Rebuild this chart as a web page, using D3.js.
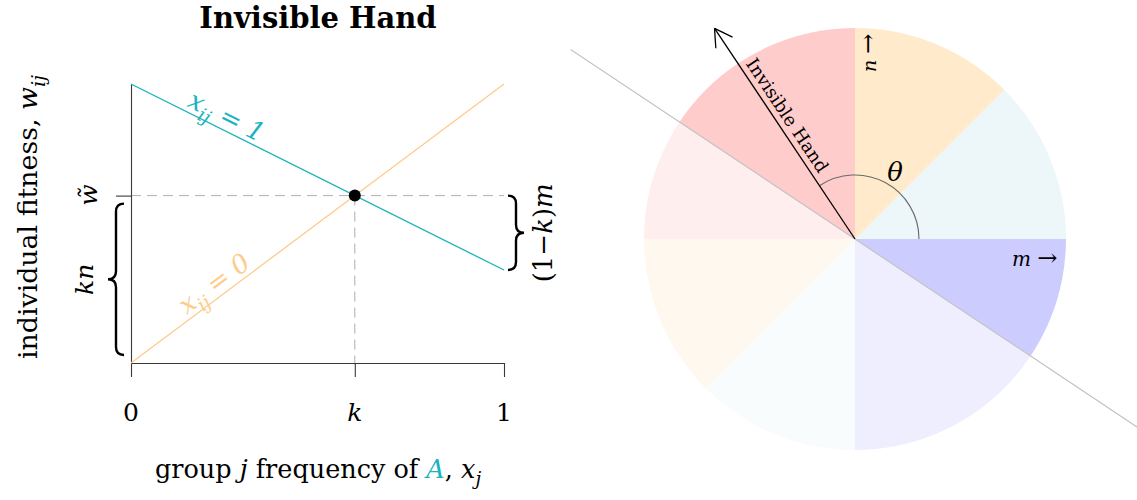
<!DOCTYPE html>
<html>
<head>
<meta charset="utf-8">
<script src="https://cdn.jsdelivr.net/npm/d3@7"></script>
<style>
  html, body { margin: 0; padding: 0; background: #fff; }
  svg { display: block; }
</style>
</head>
<body>
<script>
// ---- model values ----
const kValue = 0.6;                 // critical frequency k
const nValue = 1;                   // benefit slope n
const mValue = 2 / 3;               // cost slope m
const wTilde = kValue * nValue;     // fitness at the crossing point
const xDomain = [0, 1];
const yDomain = [0, 1];
const lineXij1 = [[0, 1], [1, 1 - mValue]];   // fitness when x_ij = 1
const lineXij0 = [[0, 0], [1, nValue]];       // fitness when x_ij = 0
const xTickValues = [0, kValue, 1];
const xTickLabels = ["0", "k", "1"];
const xTickItalic = [false, true, false];

// circle sectors: [start, end] in degrees, counter-clockwise from east
const sectorAngles = [[0, 45], [45, 90], [90, 180], [180, 225], [225, 270], [270, 360]];
const sectorColors = ["#a5d2e1", "#ff9900", "#ff0000", "#ff9900", "#a5d2e1", "#0000ff"];
const handDirection = [-mValue, nValue];     // invisible hand vector
const dividerNormal = [mValue, nValue];      // normal of the dividing line
const handLength = 1.2;                      // in circle radii
const dividerExtent = [-1.7, 1.62];          // along the dividing line, in radii

// ---- styling ----
const W = 1137, H = 500;
const serif = "'DejaVu Serif', 'Liberation Serif', serif";
const teal = "#1ab3bf";
const orange = "#fecb89";

const svg = d3.select("body").append("svg")
  .attr("width", W).attr("height", H)
  .style("font-family", serif);

// helper: append rich text made of segments {t, it, sub, color, size}
function richText(sel, parts, size) {
  const txt = sel.append("text").attr("font-size", size);
  let shifted = false;
  parts.forEach(p => {
    const ts = txt.append("tspan").text(p.t);
    if (p.it) ts.attr("font-style", "italic");
    if (p.color) ts.attr("fill", p.color);
    if (p.size) ts.attr("font-size", p.size);
    if (p.sub && !shifted) { ts.attr("dy", size * 0.28).attr("font-size", size * 0.72); shifted = true; }
    else if (p.sub) { ts.attr("font-size", size * 0.72); }
    else if (shifted) { ts.attr("dy", -size * 0.28); shifted = false; }
  });
  return txt;
}

// ================= left panel =================
const x = d3.scaleLinear().domain(xDomain).range([131, 504]);
const y = d3.scaleLinear().domain(yDomain).range([363, 84]);

svg.append("text")
  .attr("x", 318).attr("y", 28)
  .attr("text-anchor", "middle")
  .attr("font-size", 29).attr("font-weight", "bold")
  .text("Invisible Hand");

// dashed guides to the crossing point
svg.append("line")
  .attr("x1", x(0)).attr("x2", x(1))
  .attr("y1", y(wTilde)).attr("y2", y(wTilde))
  .attr("stroke", "#b0b0b0").attr("stroke-dasharray", "10,6").attr("stroke-width", 1);
svg.append("line")
  .attr("x1", x(kValue)).attr("x2", x(kValue))
  .attr("y1", y(wTilde)).attr("y2", y(0))
  .attr("stroke", "#b0b0b0").attr("stroke-dasharray", "10,6").attr("stroke-width", 1);

// axes
const xAxis = d3.axisBottom(x).tickValues(xTickValues).tickSize(14).tickSizeOuter(0).tickFormat("");
const yAxis = d3.axisLeft(y).tickValues([wTilde]).tickSize(15).tickSizeOuter(0).tickFormat("");
const gx = svg.append("g").attr("transform", `translate(0,${y(0)})`).call(xAxis);
const gy = svg.append("g").attr("transform", `translate(${x(0)},0)`).call(yAxis);
[gx, gy].forEach(g => {
  g.select(".domain").attr("stroke", "#3a3a3a").attr("stroke-width", 1.1);
  g.selectAll(".tick line").attr("stroke", "#3a3a3a").attr("stroke-width", 1.1);
});

// tick labels
xTickValues.forEach((v, i) => {
  svg.append("text")
    .attr("x", x(v)).attr("y", 421)
    .attr("text-anchor", "middle").attr("font-size", 25)
    .attr("font-style", xTickItalic[i] ? "italic" : "normal")
    .text(xTickLabels[i]);
});

// fitness lines
const lineGen = d3.line().x(d => x(d[0])).y(d => y(d[1]));
svg.append("path").datum(lineXij1).attr("d", lineGen)
  .attr("fill", "none").attr("stroke", teal).attr("stroke-width", 1.3);
svg.append("path").datum(lineXij0).attr("d", lineGen)
  .attr("fill", "none").attr("stroke", orange).attr("stroke-width", 1.3);

// crossing point
svg.append("circle").attr("cx", x(kValue)).attr("cy", y(wTilde)).attr("r", 6).attr("fill", "#000");

// line labels, laid along each line
function lineLabel(data, at, color, value) {
  const p0 = [x(data[0][0]), y(data[0][1])], p1 = [x(data[1][0]), y(data[1][1])];
  const ang = Math.atan2(p1[1] - p0[1], p1[0] - p0[0]) * 180 / Math.PI;
  const lx = x(at), ly = y(data[0][1] + (data[1][1] - data[0][1]) * at);
  const g = svg.append("g").attr("transform", `translate(${lx},${ly}) rotate(${ang})`);
  richText(g, [{t: "x", it: true}, {t: "ij", it: true, sub: true}, {t: " = " + value, it: true}], 26)
    .attr("y", -5).attr("text-anchor", "middle").attr("fill", color);
}
lineLabel(lineXij1, 0.24, teal, "1");
lineLabel(lineXij0, 0.245, orange, "0");

// braces
function vBrace(xb, xt, y0, y1) {
  const xm = (xb + xt) / 2, h = Math.abs(xt - xb) / 2, ym = (y0 + y1) / 2;
  return `M${xb},${y0} Q${xm},${y0} ${xm},${y0 + h} L${xm},${ym - h} Q${xm},${ym} ${xt},${ym}` +
         ` Q${xm},${ym} ${xm},${ym + h} L${xm},${y1 - h} Q${xm},${y1} ${xb},${y1}`;
}
svg.append("path").attr("d", vBrace(124, 108, y(wTilde) + 8, y(0) - 8))
  .attr("fill", "none").attr("stroke", "#000").attr("stroke-width", 2.4);
svg.append("path").attr("d", vBrace(508, 524, y(wTilde), y(1 - mValue)))
  .attr("fill", "none").attr("stroke", "#000").attr("stroke-width", 2.4);

// left-side labels
richText(svg.append("g").attr("transform", "translate(97,195) rotate(-90)"),
  [{t: "w\u0303", it: true}], 25).attr("text-anchor", "middle");
richText(svg.append("g").attr("transform", `translate(93,${(y(wTilde) + y(0)) / 2}) rotate(-90)`),
  [{t: "kn", it: true}], 25).attr("text-anchor", "middle");
richText(svg.append("g").attr("transform", `translate(552,${(y(wTilde) + y(1 - mValue)) / 2}) rotate(-90)`),
  [{t: "(1\u2212"}, {t: "k", it: true}, {t: ")"}, {t: "m", it: true}], 26).attr("text-anchor", "middle");

// axis titles
richText(svg.append("g").attr("transform", "translate(37,217) rotate(-90)"),
  [{t: "individual fitness, "}, {t: "w", it: true}, {t: "ij", it: true, sub: true}], 26.8)
  .attr("text-anchor", "middle");
richText(svg.append("g"),
  [{t: "group "}, {t: "j", it: true}, {t: " frequency of "}, {t: "A", it: true, color: teal},
   {t: ", "}, {t: "x", it: true}, {t: "j", it: true, sub: true}], 25.5)
  .attr("x", 318).attr("y", 478).attr("text-anchor", "middle");

// ================= right panel =================
const cx = 855, cy = 239, R = 211;
const px = d3.scaleLinear().domain([-1, 1]).range([cx - R, cx + R]);
const py = d3.scaleLinear().domain([-1, 1]).range([cy + R, cy - R]);

const nl = Math.hypot(dividerNormal[0], dividerNormal[1]);
const N = [dividerNormal[0] / nl, dividerNormal[1] / nl];
const D = [-N[1], N[0]];
const big = 3;
const sidePoly = s => [
  [D[0] * big, D[1] * big], [D[0] * big + s * N[0] * big, D[1] * big + s * N[1] * big],
  [-D[0] * big + s * N[0] * big, -D[1] * big + s * N[1] * big], [-D[0] * big, -D[1] * big]
].map(p => [px(p[0]), py(p[1])].join(",")).join(" ");

const defs = svg.append("defs");
defs.append("clipPath").attr("id", "sideFront").append("polygon").attr("points", sidePoly(1));
defs.append("clipPath").attr("id", "sideBack").append("polygon").attr("points", sidePoly(-1));

const arc = d3.arc().innerRadius(0).outerRadius(R);
const rad = d => d * Math.PI / 180;
[["sideFront", 0.2], ["sideBack", 0.067]].forEach(([clip, op]) => {
  svg.append("g").attr("clip-path", `url(#${clip})`)
    .append("g").attr("transform", `translate(${cx},${cy})`)
    .selectAll("path").data(sectorAngles).join("path")
    .attr("d", d => arc({startAngle: rad(90 - d[1]), endAngle: rad(90 - d[0])}))
    .attr("fill", (d, i) => sectorColors[i]).attr("fill-opacity", op);
});

// dividing line
svg.append("line")
  .attr("x1", px(D[0] * dividerExtent[1])).attr("y1", py(D[1] * dividerExtent[1]))
  .attr("x2", px(D[0] * dividerExtent[0])).attr("y2", py(D[1] * dividerExtent[0]))
  .attr("stroke", "#c4c4c4").attr("stroke-width", 1.2);

// angle arc theta
const hl = Math.hypot(handDirection[0], handDirection[1]);
const H2 = [handDirection[0] / hl, handDirection[1] / hl];
const theta = Math.atan2(H2[1], H2[0]);
const arcPath = d3.path();
arcPath.moveTo(cx + 64, cy);
arcPath.arc(cx, cy, 64, 0, -theta, true);
svg.append("path").attr("d", arcPath.toString())
  .attr("fill", "none").attr("stroke", "#6a6a6a").attr("stroke-width", 1.1);
svg.append("text").attr("x", 895).attr("y", 172)
  .attr("text-anchor", "middle").attr("dominant-baseline", "central")
  .attr("font-size", 26).attr("font-style", "italic").text("\u03b8");

// invisible hand arrow
const tip = [px(H2[0] * handLength), py(H2[1] * handLength)];
svg.append("line").attr("x1", cx).attr("y1", cy).attr("x2", tip[0]).attr("y2", tip[1])
  .attr("stroke", "#000").attr("stroke-width", 1.3);
const back = Math.atan2(cy - tip[1], cx - tip[0]);
[-1, 1].forEach(s => {
  const a = back + s * rad(30);
  svg.append("line").attr("x1", tip[0]).attr("y1", tip[1])
    .attr("x2", tip[0] + 20 * Math.cos(a)).attr("y2", tip[1] + 20 * Math.sin(a))
    .attr("stroke", "#000").attr("stroke-width", 1.3);
});
const readAng = back * 180 / Math.PI;
const lp = [cx + (tip[0] - cx) * 0.555, cy + (tip[1] - cy) * 0.555];
svg.append("text")
  .attr("transform", `translate(${lp[0]},${lp[1]}) rotate(${readAng})`)
  .attr("y", -6).attr("text-anchor", "middle").attr("font-size", 18)
  .text("Invisible Hand");

// axis direction labels
richText(svg.append("g").attr("transform", "translate(876,72) rotate(-90)"),
  [{t: "n ", it: true}, {t: "\u2192", size: 24}], 19).attr("text-anchor", "start");
richText(svg.append("g"), [{t: "m ", it: true}, {t: "\u2192", size: 24}], 20)
  .attr("x", 1012).attr("y", 266).attr("text-anchor", "start");
</script>
</body>
</html>
